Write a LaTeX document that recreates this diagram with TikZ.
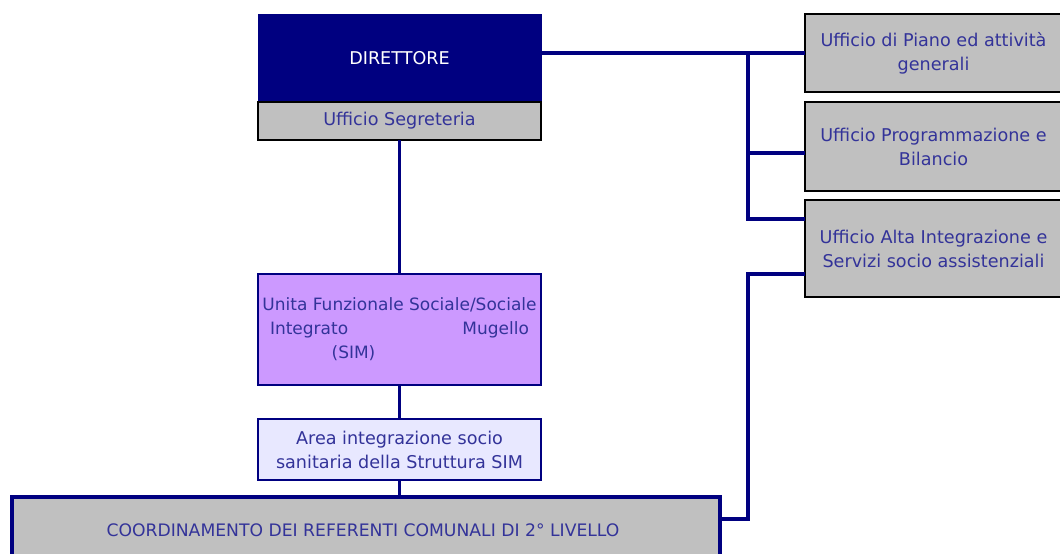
\documentclass[tikz,border=0pt]{standalone}
\usepackage{fontspec}
\setmainfont{DejaVu Sans}
\definecolor{navy}{RGB}{0,0,128}
\definecolor{inkblue}{RGB}{51,51,153}
\definecolor{boxgrey}{RGB}{192,192,192}
\definecolor{lilac}{RGB}{204,153,255}
\definecolor{palelilac}{RGB}{232,232,255}
\begin{document}
\begin{tikzpicture}[x=1pt,y=-1pt,
  every node/.style={inner sep=0pt,outer sep=0pt,font=\fontsize{17.6}{24}\selectfont,text=inkblue,align=center},
  greybox/.style={draw=black,line width=1.6pt,fill=boxgrey},
  link/.style={draw=navy,line width=3.2pt}]
\useasboundingbox (0,0) rectangle (1060,554);

% top of the chart
\node[fill=navy,draw=navy,minimum width=283pt,minimum height=88pt,text=white] (dir) at (399.5,58) {DIRETTORE};
\node[greybox,minimum width=283pt,minimum height=38pt] (seg) at (399.5,121) {Ufficio Segreteria};

% staff offices on the right
\node[greybox,minimum width=257pt,minimum height=78pt] (r1) at (933.5,53) {Ufficio di Piano ed attività\\generali};
\node[greybox,minimum width=257pt,minimum height=89pt] (r2) at (933.5,146.5) {Ufficio Programmazione e\\Bilancio};
\node[greybox,minimum width=257pt,minimum height=97pt] (r3) at (933.5,248.5) {Ufficio Alta Integrazione e\\Servizi socio assistenziali};

% line of command
\node[draw=navy,line width=2pt,fill=lilac,minimum width=283pt,minimum height=111pt,
      font=\fontsize{17}{24}\selectfont] (unit) at (399.5,329.5)
  {Unita Funzionale Sociale/Sociale\\\makebox[259pt]{Integrato\hfill Mugello}\\\hspace*{-92pt}(SIM)};
\node[draw=navy,line width=2pt,fill=palelilac,minimum width=283pt,minimum height=61pt] (area) at (399.5,449.5)
  {Area integrazione socio\\sanitaria della Struttura SIM};
\node[draw=navy,line width=4pt,fill=boxgrey,minimum width=708pt,minimum height=66pt,
      font=\fontsize{17.2}{24}\selectfont] (coord) at (366,530)
  {\hspace*{-6pt}COORDINAMENTO DEI REFERENTI COMUNALI DI 2° LIVELLO};

% connectors
\coordinate (bus) at (748,53);
\coordinate (jlow) at (748,519);
\draw[link] (dir.east |- bus) -- (bus -| r1.west);
\draw[link] (bus) |- ([yshift=-6.5pt]r2.west);
\draw[link] (bus) |- ([yshift=29.5pt]r3.west);
\draw[link] ([yshift=-25.5pt]r3.west) -| (jlow) -- (jlow -| coord.east);
\draw[link] (seg.south) -- (unit.north);
\draw[link] (unit.south) -- (area.north);
\draw[link] (area.south) -- (area.south |- coord.north);
\end{tikzpicture}
\end{document}
